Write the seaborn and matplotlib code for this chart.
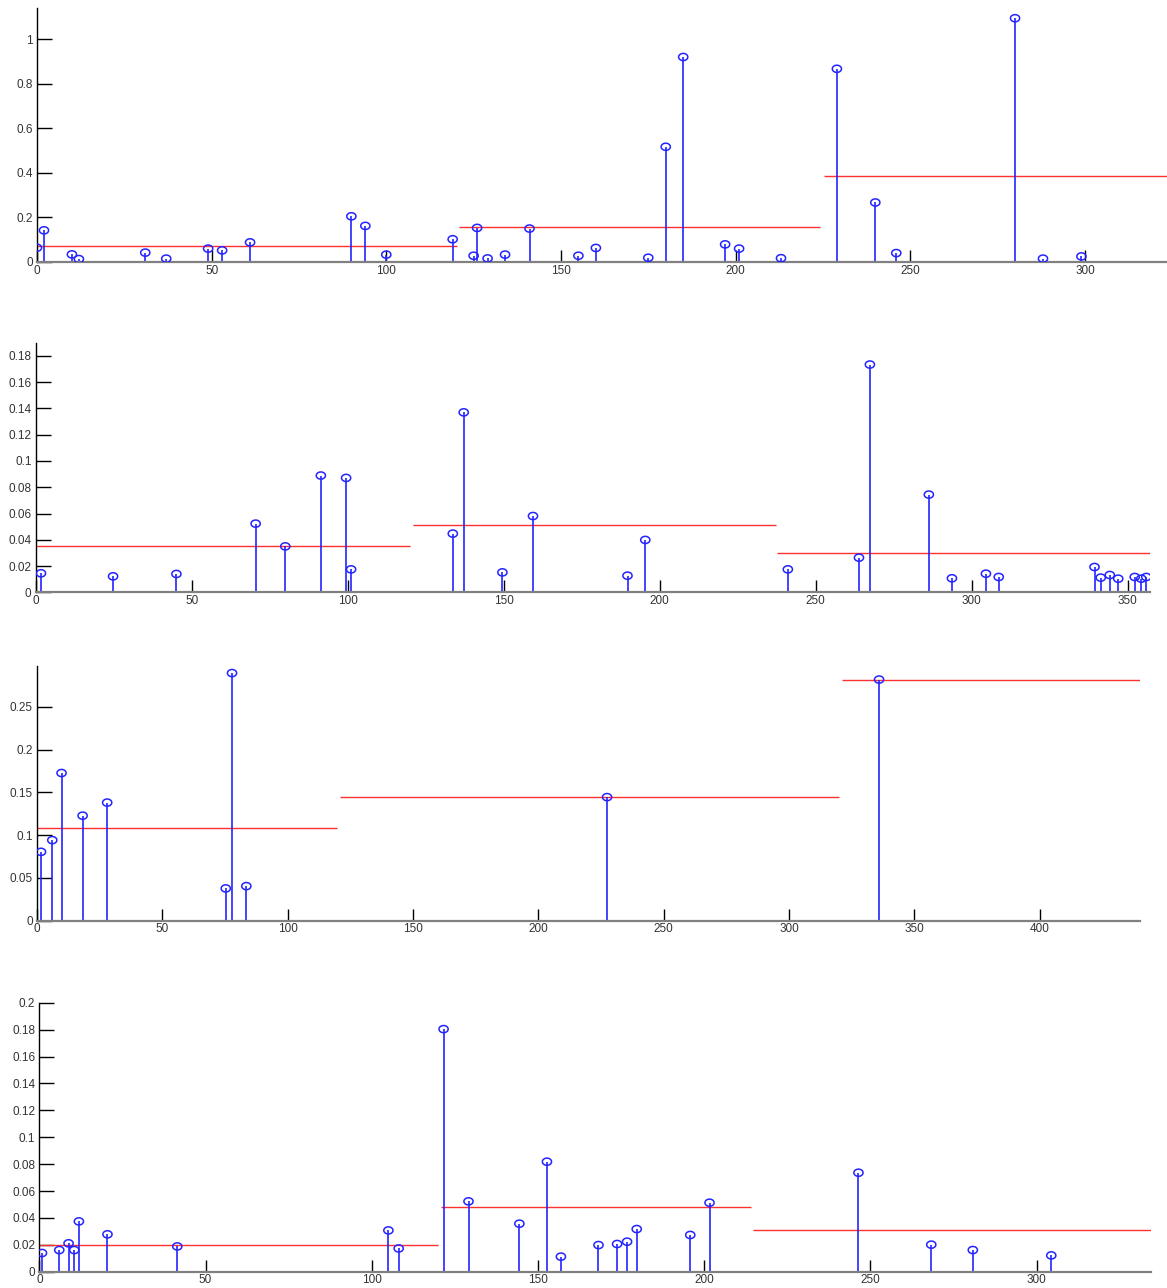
import numpy as np
import pandas as pd
import matplotlib
matplotlib.use('Agg')
import matplotlib.pyplot as plt
import seaborn as sns
from matplotlib.ticker import MultipleLocator, FuncFormatter

# panel 1
p1_x = [0, 2, 10, 12, 31, 37, 49, 53, 61, 90, 94, 100, 119, 125, 126, 129, 134, 141,
        155, 160, 175, 180, 185, 197, 201, 213, 229, 240, 246, 280, 288, 299]
p1_y = [0.064, 0.142, 0.034, 0.013, 0.042, 0.015, 0.060, 0.052, 0.088, 0.205, 0.162, 0.033,
        0.102, 0.028, 0.153, 0.016, 0.033, 0.150, 0.028, 0.063, 0.019, 0.517, 0.920, 0.079,
        0.060, 0.017, 0.867, 0.267, 0.040, 1.094, 0.015, 0.025]
p1_mean_start = [0, 120.7, 225.2]
p1_mean_end = [120.2, 224.2, 323.5]
p1_mean = [0.072, 0.159, 0.384]

# panel 2
p2_x = [1.7, 24.8, 45.1, 70.5, 80.0, 91.4, 99.5, 101.1, 133.7, 137.2, 149.6, 159.4, 189.7,
        195.4, 241.1, 263.9, 267.4, 286.3, 293.7, 304.6, 308.7, 339.4, 341.4, 344.3, 347.0,
        352.3, 354.4, 356.0]
p2_y = [0.0145, 0.0122, 0.0140, 0.0523, 0.0350, 0.0889, 0.0871, 0.0175, 0.0447, 0.137,
        0.0152, 0.0581, 0.0127, 0.0399, 0.0175, 0.0264, 0.1734, 0.0744, 0.0107, 0.0142,
        0.0117, 0.0193, 0.0112, 0.0132, 0.0104, 0.0117, 0.0104, 0.0117]
p2_mean_start = [0, 120.8, 237.7]
p2_mean_end = [119.9, 237.2, 357.1]
p2_mean = [0.0355, 0.0515, 0.030]

# panel 3
p3_x = [1.6, 6.1, 9.8, 18.2, 28.0, 75.3, 77.8, 83.5, 227.4, 335.9]
p3_y = [0.0805, 0.0942, 0.1727, 0.1228, 0.1381, 0.0377, 0.2896, 0.0404, 0.1445, 0.282]
p3_mean_start = [0, 120.9, 321]
p3_mean_end = [119.8, 320, 440]
p3_mean = [0.1083, 0.1445, 0.282]

# panel 4
p4_x = [0.8, 6.0, 8.8, 10.5, 11.9, 20.5, 41.5, 105.0, 108.1, 121.6, 129.1, 144.4, 152.7,
        156.9, 168.2, 173.8, 176.8, 179.7, 195.8, 201.6, 246.4, 268.3, 280.8, 304.4]
p4_y = [0.0139, 0.0161, 0.0211, 0.0161, 0.0374, 0.0278, 0.0188, 0.0307, 0.0173, 0.1804,
        0.0523, 0.0357, 0.0818, 0.0112, 0.0198, 0.0206, 0.0223, 0.0317, 0.0273, 0.0513,
        0.0736, 0.0201, 0.0161, 0.0121]
p4_mean_start = [0, 120.8, 214.7]
p4_mean_end = [120, 214.1, 334.4]
p4_mean = [0.0201, 0.0483, 0.0307]

sns.set_style('ticks')
plt.rcParams['font.family'] = ['Liberation Sans', 'DejaVu Sans']

# slightly flattened circle, like the matlab stem heads in the picture
t = np.linspace(0, 2 * np.pi, 40)
head = list(zip(np.cos(t), 0.78 * np.sin(t)))

fig = plt.figure(figsize=(11.67, 12.88), dpi=100)

panels = [
    (p1_x, p1_y, p1_mean_start, p1_mean_end, p1_mean, (0, 323.5), (0, 1.14), 0.2,
     [0.0317, 0.7966, 0.9683, 0.1972]),
    (p2_x, p2_y, p2_mean_start, p2_mean_end, p2_mean, (0, 357.1), (0, 0.19), 0.02,
     [0.0306, 0.5401, 0.9546, 0.1938]),
    (p3_x, p3_y, p3_mean_start, p3_mean_end, p3_mean, (0, 440), (0, 0.298), 0.05,
     [0.0317, 0.2852, 0.9452, 0.1978]),
    (p4_x, p4_y, p4_mean_start, p4_mean_end, p4_mean, (0, 334.4), (0, 0.2), 0.02,
     [0.0337, 0.01266, 0.9526, 0.2088]),
]

for xs, ys, ms, me, mv, xlim, ylim, ystep, rect in panels:
    ax = fig.add_axes(rect)
    df = pd.DataFrame({'x': xs, 'y': ys})
    ax.vlines(df['x'], 0, df['y'], color='#2424ff', linewidth=1.2, zorder=2)
    sns.scatterplot(data=df, x='x', y='y', ax=ax, marker=head, s=44,
                    facecolor='none', edgecolor='#2424ff', linewidth=1.1, zorder=3)
    ax.hlines(mv, ms, me, color='#ff3030', linewidth=1.0, zorder=1)
    ax.set_xlim(*xlim)
    ax.set_ylim(*ylim)
    ax.xaxis.set_major_locator(MultipleLocator(50))
    ax.yaxis.set_major_locator(MultipleLocator(ystep))
    ax.yaxis.set_major_formatter(FuncFormatter(lambda v, p: '%g' % round(v, 4)))
    ax.set_xlabel('')
    ax.set_ylabel('')
    for s in ['top', 'right']:
        ax.spines[s].set_visible(False)
    ax.spines['left'].set_color('black')
    ax.spines['left'].set_linewidth(1.0)
    ax.spines['bottom'].set_color('#808080')
    ax.spines['bottom'].set_linewidth(1.6)
    ax.tick_params(axis='x', bottom=True, direction='in', length=9, width=1, color='black',
                   labelsize=8.5, labelcolor='#333333', pad=2)
    ax.tick_params(axis='y', left=True, direction='in', length=11, width=1, color='black',
                   labelsize=8.5, labelcolor='#333333', pad=3)
    ax.set_facecolor('white')

fig.savefig('out.png', dpi=100)
